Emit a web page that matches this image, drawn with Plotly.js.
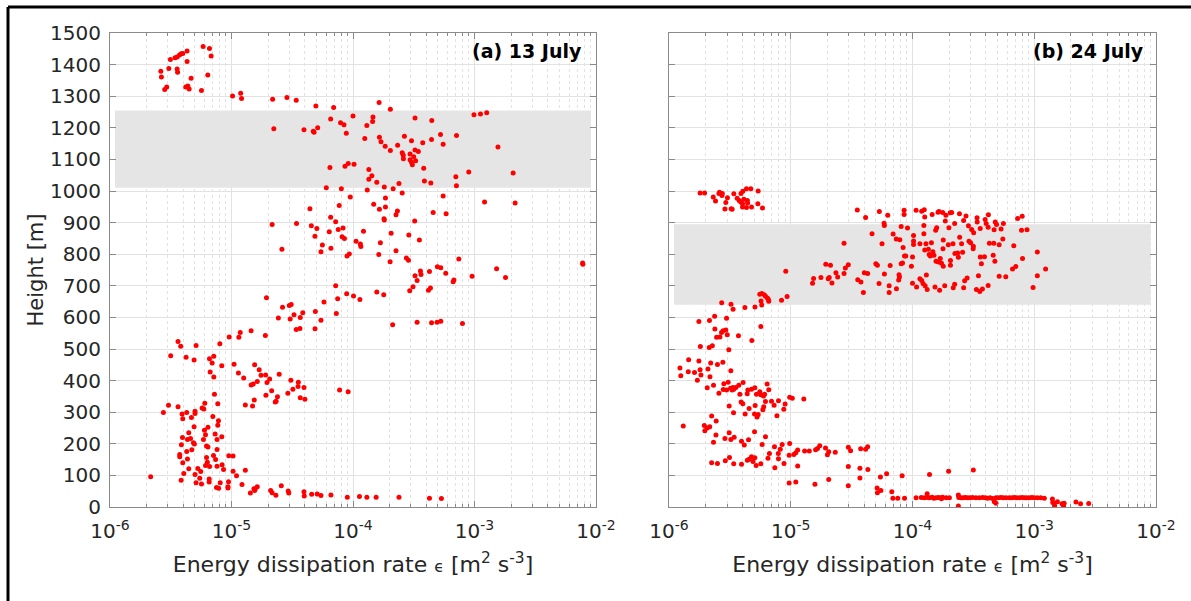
<!DOCTYPE html>
<html>
<head>
<meta charset="utf-8">
<script src="https://cdn.plot.ly/plotly-3.0.1.min.js"></script>
<style>
html, body { margin: 0; padding: 0; background: #ffffff; }
#chart { width: 1191px; height: 601px; }
</style>
</head>
<body>
<div id="chart"></div>
<script>
// ---------- Panel (a) 13 July : energy dissipation rate [m2 s-3] and height [m] ----------
const epsA = [
  2.62e-6, 2.65e-6, 2.82e-6, 2.93e-6, 3.05e-6, 3.14e-6, 3.43e-6, 3.57e-6, 3.73e-6, 3.85e-6,
  3.97e-6, 3.57e-6, 3.6e-6, 4.31e-6, 4.31e-6, 4.2e-6, 4.37e-6, 4.48e-6, 4.65e-6, 5.66e-6,
  5.84e-6, 6.59e-6, 6.8e-6, 6.38e-6, 1.02e-5, 1.19e-5, 1.21e-5, 2.18e-5, 2.86e-5, 3.41e-5,
  4.95e-5, 6.93e-5, 1.64e-4, 2.03e-4, 1.0e-4, 1.46e-4, 1.45e-4, 1.3e-4, 6.55e-5, 7.9e-5,
  8.43e-5, 8.81e-5, 3.95e-5, 4.71e-5, 4.78e-5, 5.12e-5, 2.23e-5, 1.25e-4, 1.65e-4, 1.7e-4,
  1.84e-4, 2.03e-4, 2.33e-4, 6.46e-5, 8.59e-5, 9.14e-5, 1.02e-4, 1.35e-4, 1.43e-4, 1.35e-4,
  1.57e-4, 1.81e-4, 2.14e-4, 2.39e-4, 6.03e-5, 8.02e-5, 9.5e-5, 1.31e-4, 1.85e-4, 1.48e-4,
  1.65e-4, 1.85e-4, 1.8e-4, 1.81e-4, 2.32e-4, 2.26e-4, 7.7e-5, 4.42e-5, 6.55e-5, 7.2e-5,
  2.16e-5, 3.43e-5, 4.54e-5, 5.04e-5, 4.86e-5, 6.38e-5, 7.56e-5, 8.28e-5, 8.13e-5, 8.5e-5,
  1.06e-4, 1.15e-4, 1.16e-4, 1.22e-4, 1.68e-4, 1.63e-4, 2.06e-4, 2.26e-4, 2.02e-4, 5.6e-5,
  5.45e-5, 6.58e-5, 2.6e-5, 8.93e-5, 9.33e-5, 7.2e-5, 8.87e-5, 1.01e-4, 7.48e-5, 1.14e-4,
  1.94e-5, 1.57e-4, 1.79e-4, 3.24e-4, 4.45e-4, 9.9e-4, 1.12e-3, 1.26e-3, 2.65e-4, 3.03e-4,
  3.75e-4, 4.43e-4, 5.25e-4, 5.52e-4, 7.11e-4, 1.56e-3, 2.54e-4, 2.59e-4, 2.6e-4, 2.95e-4,
  3.24e-4, 3.45e-4, 3.16e-4, 2.95e-4, 3.08e-4, 3.03e-4, 3.28e-4, 3.82e-4, 3.87e-4, 4.37e-4,
  7.02e-4, 7.1e-4, 8.97e-4, 2.08e-3, 2.54e-4, 5.52e-4, 4.57e-4, 5.84e-4, 1.21e-3, 2.16e-3,
  3.22e-4, 2.88e-4, 3.52e-4, 2.75e-4, 2.86e-4, 7.43e-4, 4.95e-4, 5.28e-4, 4.26e-4, 3.59e-4,
  3.24e-4, 3.37e-4, 3.63e-4, 5.8e-4, 6.67e-4, 6.77e-4, 9.55e-4, 1.52e-3, 1.8e-3, 7.76e-3,
  7.8e-3, 2.93e-4, 3.12e-4, 4.18e-4, 4.34e-4, 2.12e-4, 2.43e-5, 2.63e-5, 2.99e-5, 3.1e-5,
  3.27e-5, 3.04e-5, 3.41e-5, 3.66e-5, 3.68e-5, 3.86e-5, 4.9e-5, 4.87e-5, 5.45e-5, 5.77e-5,
  7.29e-5, 3.63e-6, 3.82e-6, 3.16e-6, 4.23e-6, 4.92e-6, 5.11e-6, 8.02e-6, 9.57e-6, 1.15e-5,
  1.18e-5, 1.45e-5, 1.9e-5, 6.59e-6, 6.93e-6, 7.15e-6, 6.67e-6, 7.15e-6, 8.32e-6, 1.05e-5,
  1.14e-5, 1.26e-5, 1.55e-5, 1.69e-5, 1.75e-5, 1.63e-5, 1.45e-5, 1.51e-5, 1.91e-5, 2.06e-5,
  1.96e-5, 2.47e-5, 2.14e-5, 1.92e-5, 2.39e-5, 2.33e-5, 2.29e-5, 1.54e-5, 1.3e-5, 1.49e-5,
  3.08e-5, 3.55e-5, 3.53e-5, 3.2e-5, 2.91e-5, 3.95e-5, 3.68e-5, 4.02e-5, 7.76e-5, 9.12e-5,
  3.03e-6, 2.75e-6, 3.63e-6, 3.92e-6, 3.97e-6, 4.28e-6, 4.68e-6, 5.01e-6, 5.01e-6, 5.73e-6,
  5.92e-6, 6.03e-6, 7.71e-6, 7.24e-6, 7.02e-6, 7.81e-6, 7.71e-6, 4.92e-6, 4.45e-6, 3.95e-6,
  4.34e-6, 4.6e-6, 4.86e-6, 4.95e-6, 3.87e-6, 4.28e-6, 4.71e-6, 3.75e-6, 3.75e-6, 3.97e-6,
  4.34e-6, 5.99e-6, 6.11e-6, 5.88e-6, 6.23e-6, 6.4e-6, 6.4e-6, 7.33e-6, 7.6e-6, 7.6e-6,
  8.32e-6, 7.11e-6, 7.4e-6, 6.23e-6, 6.33e-6, 6.11e-6, 6.6e-6, 7.6e-6, 8.37e-6, 9.5e-6,
  1.03e-5, 5.28e-6, 4.45e-6, 5.58e-6, 8.6e-6, 1.03e-5, 1.1e-5, 1.3e-5, 4.05e-6, 5.01e-6,
  5.48e-6, 6.55e-6, 6.55e-6, 3.85e-6, 5.11e-6, 5.66e-6, 8.07e-6, 9.45e-6, 7.52e-6, 7.84e-6,
  9.35e-6, 9.35e-6, 1.22e-5, 2.16e-6, 1.43e-5, 1.55e-5, 1.57e-5, 1.63e-5, 1.53e-5, 2.1e-5,
  2.16e-5, 2.32e-5, 2.57e-5, 2.93e-5, 2.96e-5, 3.95e-5, 3.97e-5, 4.57e-5, 5.08e-5, 5.45e-5,
  6.58e-5, 8.98e-5, 1.13e-4, 1.3e-4, 1.55e-4, 2.39e-4, 4.26e-4, 5.34e-4, 3.37e-4, 4.43e-4,
  4.92e-4, 5.28e-4, 7.96e-4
];
const heightA = [
  1379, 1361, 1321, 1329, 1388, 1416, 1422, 1424, 1430, 1434,
  1435, 1386, 1376, 1443, 1410, 1329, 1332, 1323, 1357, 1318,
  1457, 1451, 1427, 1367, 1301, 1309, 1293, 1290, 1296, 1287,
  1269, 1264, 1280, 1259, 1237, 1234, 1220, 1207, 1228, 1216,
  1210, 1183, 1194, 1189, 1186, 1200, 1197, 1166, 1170, 1156,
  1142, 1128, 1145, 1074, 1078, 1087, 1085, 1068, 1048, 1037,
  1028, 1013, 1007, 1024, 1010, 1007, 981, 1003, 978, 958,
  942, 949, 912, 908, 937, 925, 954, 944, 917, 903,
  894, 897, 890, 881, 857, 871, 878, 883, 855, 850,
  841, 832, 824, 873, 836, 799, 866, 811, 776, 829,
  808, 819, 816, 794, 801, 700, 675, 668, 659, 657,
  662, 680, 672, 1231, 1223, 1241, 1244, 1248, 1173, 1159,
  1153, 1163, 1179, 1148, 1176, 1139, 1121, 1113, 1102, 1117,
  1130, 1125, 1108, 1099, 1083, 1091, 1096, 1072, 1032, 1025,
  1045, 1017, 1060, 1057, 994, 984, 932, 928, 965, 962,
  905, 861, 845, 788, 781, 785, 760, 757, 745, 747,
  732, 717, 736, 740, 713, 718, 730, 754, 726, 772,
  768, 684, 697, 686, 693, 577, 598, 632, 638, 641,
  608, 595, 562, 565, 600, 615, 619, 564, 591, 649,
  612, 524, 509, 479, 474, 465, 511, 517, 538, 537,
  552, 558, 543, 469, 456, 477, 427, 411, 447, 452,
  424, 408, 450, 434, 417, 397, 386, 389, 418, 405,
  394, 420, 368, 354, 349, 335, 332, 339, 323, 320,
  401, 395, 381, 373, 360, 378, 346, 341, 370, 365,
  322, 299, 317, 294, 279, 299, 283, 303, 296, 313,
  310, 328, 327, 357, 286, 273, 259, 254, 235, 220,
  214, 217, 203, 199, 197, 176, 181, 166, 159, 140,
  152, 243, 229, 214, 193, 190, 252, 231, 214, 182,
  222, 163, 150, 157, 142, 131, 128, 129, 134, 162,
  161, 122, 121, 112, 119, 113, 99, 116, 106, 103,
  91, 89, 79, 85, 77, 73, 77, 80, 62, 59,
  64, 60, 71, 96, 44, 52, 58, 64, 58, 52,
  45, 37, 67, 51, 44, 48, 35, 40, 41, 36,
  38, 31, 33, 31, 31, 31, 28, 27, 585, 583,
  585, 588, 581
];

// ---------- Panel (b) 24 July ----------
const epsB = [
  1.8e-6, 1.96e-6, 2.31e-6, 2.41e-6, 2.57e-6, 2.6e-6, 2.72e-6, 2.74e-6, 2.93e-6, 3.02e-6,
  2.88e-6, 3.24e-6, 3.3e-6, 3.41e-6, 3.63e-6, 3.77e-6, 3.89e-6, 3.9e-6, 4.04e-6, 4.02e-6,
  4.12e-6, 4.33e-6, 4.4e-6, 4.42e-6, 4.7e-6, 4.33e-6, 4.02e-6, 4.76e-6, 5.4e-6, 5.37e-6,
  5.86e-6, 9.1e-6, 9.33e-6, 5.57e-6, 5.8e-6, 6.05e-6, 6.2e-6, 6.43e-6, 6.55e-6, 2.71e-6,
  3.23e-6, 3.36e-6, 4.2e-6, 5.08e-6, 5.78e-6, 5.7e-6, 6.6e-6, 8.4e-6, 3.52e-5, 4.12e-5,
  5.34e-5, 6.26e-5, 8.53e-5, 8.53e-5, 1.07e-4, 1.19e-4, 1.25e-4, 1.26e-4, 1.45e-4, 1.62e-4,
  1.65e-4, 1.77e-4, 1.88e-4, 1.86e-4, 2.04e-4, 2.1e-4, 2.43e-4, 2.75e-4, 2.63e-4, 2.22e-4,
  1.99e-4, 3.39e-4, 3.4e-4, 3.6e-4, 3.95e-4, 4.03e-4, 4.2e-4, 4.18e-4, 4.78e-4, 4.9e-4,
  4.68e-4, 5.34e-4, 5.58e-4, 7.3e-4, 7.96e-4, 7.86e-4, 8.72e-4, 3.06e-4, 3.18e-4, 2.88e-4,
  1.55e-4, 1.58e-4, 1.24e-4, 1.24e-4, 1.02e-4, 1.02e-4, 1.02e-4, 9.1e-5, 8.07e-5, 5.84e-5,
  5.87e-5, 6.93e-5, 7.35e-5, 7.87e-5, 4.65e-5, 5.62e-5, 2.74e-5, 8.37e-5, 8.6e-5, 8.8e-5,
  1.0e-4, 1.15e-4, 1.29e-4, 1.26e-4, 1.35e-4, 1.43e-4, 1.37e-4, 1.4e-4, 1.5e-4, 1.56e-4,
  1.47e-4, 1.63e-4, 1.69e-4, 1.73e-4, 1.79e-4, 1.79e-4, 1.78e-4, 1.97e-4, 2.15e-4, 2.23e-4,
  2.05e-4, 2.05e-4, 2.38e-4, 2.44e-4, 2.35e-4, 2.53e-4, 2.58e-4, 2.91e-4, 3.0e-4, 3.16e-4,
  3.15e-4, 3.6e-4, 3.9e-4, 3.68e-4, 4.28e-4, 4.65e-4, 5.15e-4, 5.52e-4, 4.6e-4, 4.75e-4,
  6.79e-4, 8.01e-4, 7.06e-4, 6.63e-4, 5.84e-4, 5.15e-4, 1.06e-3, 1.24e-3, 1.06e-3, 9.78e-4,
  3.48e-4, 4.18e-4, 3.75e-4, 3.35e-4, 3.57e-4, 2.81e-4, 2.68e-4, 2.63e-4, 2.22e-4, 2.16e-4,
  1.84e-4, 1.67e-4, 1.53e-4, 1.32e-4, 1.27e-4, 1.22e-4, 1.19e-4, 1.3e-4, 1.15e-4, 1.08e-4,
  1.0e-4, 9.8e-5, 8.28e-5, 8.07e-5, 7.81e-5, 7.7e-5, 7.75e-5, 7.38e-5, 6.43e-5, 6.43e-5,
  5.88e-5, 5.31e-5, 6.55e-5, 5.15e-5, 5.0e-5, 4.28e-5, 4.02e-5, 3.95e-5, 3.77e-5, 3.55e-5,
  2.97e-5, 2.81e-5, 2.74e-5, 2.35e-5, 2.43e-5, 2.12e-5, 1.94e-5, 2.07e-5, 2.18e-5, 2.03e-5,
  1.77e-5, 1.54e-5, 1.51e-5, 1.76e-6, 2.15e-6, 2.37e-6, 2.97e-6, 2.38e-6, 2.7e-6, 2.78e-6,
  2.93e-6, 3.01e-6, 2.62e-6, 2.46e-6, 3.72e-6, 5.68e-6, 4.79e-6, 1.81e-6, 2.14e-6, 2.27e-6,
  3.1e-6, 1.45e-6, 1.76e-6, 2.2e-6, 2.5e-6, 2.77e-6, 1.23e-6, 1.25e-6, 1.44e-6, 1.62e-6,
  1.8e-6, 1.71e-6, 1.83e-6, 2.09e-6, 2.17e-6, 3.22e-6, 2.06e-6, 2.32e-6, 2.57e-6, 2.82e-6,
  3.06e-6, 2.79e-6, 2.97e-6, 3.2e-6, 3.3e-6, 3.35e-6, 3.4e-6, 3.54e-6, 3.74e-6, 3.82e-6,
  4.06e-6, 3.91e-6, 4.04e-6, 4.44e-6, 4.39e-6, 4.76e-6, 5.07e-6, 4.55e-6, 5.1e-6, 5.23e-6,
  5.57e-6, 5.68e-6, 5.97e-6, 6.1e-6, 6.4e-6, 6.6e-6, 6.2e-6, 6.0e-6, 5.9e-6, 6.95e-6,
  7.3e-6, 7.93e-6, 7.7e-6, 8.77e-6, 8.99e-6, 9.8e-6, 1.03e-5, 1.28e-5, 3.12e-6, 3.39e-6,
  4.22e-6, 5.04e-6, 5.29e-6, 5.4e-6, 1.31e-6, 1.95e-6, 1.97e-6, 2.06e-6, 2.16e-6, 2.24e-6,
  2.44e-6, 2.32e-6, 2.43e-6, 2.88e-6, 3.12e-6, 3.22e-6, 3.43e-6, 3.94e-6, 4.15e-6, 4.5e-6,
  5.04e-6, 5.82e-6, 6.2e-6, 7.35e-6, 7.9e-6, 6.68e-6, 8.2e-6, 8.5e-6, 9.8e-6, 9.7e-6,
  1.06e-5, 1.1e-5, 1.14e-5, 1.3e-5, 2.24e-6, 2.5e-6, 2.9e-6, 3.14e-6, 3.4e-6, 3.94e-6,
  4.4e-6, 4.55e-6, 4.76e-6, 4.9e-6, 5.07e-6, 5.2e-6, 5.68e-6, 6.5e-6, 7.4e-6, 7.93e-6,
  8.8e-6, 1.14e-5, 9.7e-6, 1.1e-5, 1.42e-5, 1.6e-5, 1.66e-5, 1.73e-5, 1.93e-5, 2.0e-5,
  2.05e-5, 2.32e-5, 2.97e-5, 3.1e-5, 3.75e-5, 4.12e-5, 4.28e-5, 2.97e-5, 3.7e-5, 4.3e-5,
  2.05e-5, 1.58e-5, 2.97e-5, 3.7e-5, 5.45e-5, 6.13e-5, 8.22e-5, 5.12e-5, 5.15e-5, 5.5e-5,
  6.76e-5, 6.9e-5, 7.57e-5, 8.6e-5, 1.38e-4, 1.98e-4, 3.16e-4, 1.07e-4, 1.18e-4, 1.25e-4,
  1.32e-4, 1.38e-4, 1.45e-4, 1.5e-4, 1.56e-4, 1.63e-4, 1.7e-4, 1.77e-4, 1.89e-4, 2.01e-4,
  2.4e-4, 2.51e-4, 2.62e-4, 2.72e-4, 2.84e-4, 2.97e-4, 3.12e-4, 3.32e-4, 3.54e-4, 3.77e-4,
  3.97e-4, 4.14e-4, 4.33e-4, 4.55e-4, 4.85e-4, 5.07e-4, 5.33e-4, 5.57e-4, 5.86e-4, 6.24e-4,
  6.56e-4, 6.86e-4, 7.16e-4, 7.54e-4, 7.93e-4, 8.28e-4, 8.65e-4, 9.1e-4, 9.57e-4, 1.0e-3,
  1.06e-3, 1.13e-3, 1.21e-3, 1.32e-4, 2.38e-4, 2.38e-4, 4.85e-4, 4.7e-4, 1.73e-4, 1.41e-3,
  1.42e-3, 1.55e-3, 1.69e-3, 1.74e-3, 1.46e-3, 1.47e-3, 1.76e-3, 2.2e-3, 2.4e-3, 2.8e-3
];
const heightB = [
  994, 994, 981, 968, 992, 996, 986, 992, 964, 979,
  943, 944, 942, 991, 977, 970, 965, 992, 999, 960,
  974, 1007, 970, 962, 1007, 948, 949, 949, 1000, 960,
  946, 746, 666, 673, 676, 672, 667, 661, 657, 646,
  642, 626, 631, 633, 639, 652, 651, 654, 940, 916,
  935, 923, 939, 926, 939, 936, 941, 918, 926, 933,
  935, 932, 923, 905, 931, 932, 928, 921, 907, 897,
  884, 915, 902, 881, 910, 897, 925, 885, 902, 894,
  877, 880, 897, 913, 920, 876, 877, 878, 868, 890,
  876, 884, 891, 865, 859, 842, 831, 883, 888, 898,
  891, 864, 848, 846, 865, 833, 835, 821, 794, 794,
  791, 833, 833, 813, 816, 836, 799, 794, 797, 778,
  808, 775, 786, 771, 762, 845, 817, 830, 833, 802,
  780, 765, 790, 854, 804, 833, 806, 841, 836, 825,
  817, 791, 792, 770, 835, 835, 830, 848, 797, 778,
  827, 786, 761, 753, 729, 730, 807, 753, 732, 695,
  732, 701, 690, 688, 682, 725, 716, 694, 705, 694,
  700, 686, 696, 688, 700, 707, 717, 734, 722, 696,
  708, 762, 772, 770, 728, 718, 735, 691, 700, 679,
  737, 707, 764, 765, 770, 739, 741, 679, 712, 719,
  767, 756, 739, 741, 728, 765, 768, 726, 709, 722,
  726, 723, 708, 587, 590, 604, 597, 563, 552, 558,
  560, 545, 538, 537, 542, 571, 527, 508, 505, 510,
  498, 466, 462, 456, 451, 458, 440, 415, 428, 426,
  434, 401, 418, 437, 412, 431, 377, 385, 360, 390,
  395, 372, 370, 376, 370, 378, 373, 378, 385, 357,
  394, 332, 327, 370, 358, 373, 377, 312, 321, 357,
  365, 355, 351, 357, 389, 371, 334, 317, 308, 335,
  322, 336, 289, 309, 326, 347, 344, 342, 320, 298,
  294, 294, 285, 293, 256, 258, 241, 250, 254, 288,
  272, 205, 228, 217, 235, 214, 221, 208, 196, 213,
  238, 198, 222, 191, 169, 169, 183, 198, 201, 164,
  166, 172, 180, 177, 140, 138, 146, 157, 137, 135,
  148, 151, 159, 144, 156, 131, 137, 154, 124, 153,
  138, 130, 76, 79, 177, 181, 185, 194, 187, 165,
  175, 173, 189, 178, 184, 183, 191, 128, 123, 119,
  87, 72, 67, 92, 95, 105, 99, 60, 45, 52,
  48, 28, 28, 28, 103, 113, 117, 29, 30, 29,
  30, 29, 31, 28, 29, 30, 29, 31, 29, 29,
  30, 29, 29, 30, 29, 29, 30, 29, 29, 30,
  29, 28, 29, 27, 29, 29, 30, 29, 29, 29,
  29, 30, 29, 29, 30, 29, 29, 29, 30, 29,
  29, 29, 28, 42, 38, 3, 12, 17, 26, 25,
  14, 17, 10, 3, 10, 3, 12, 16, 10, 11
];

// shaded layers: height [bottom, top] in m and epsilon extent [left, right]
const bandHeightA = [1010, 1255];
const bandHeightB = [640, 895];
const bandEpsA = [1.1e-6, 9.1e-3];
const bandEpsB = [1.1e-6, 9.05e-3];

// axis ticks and texts
const xTickVals = [1e-6, 1e-5, 1e-4, 1e-3, 1e-2];
const xTickText = ['10<sup>-6</sup>', '10<sup>-5</sup>', '10<sup>-4</sup>', '10<sup>-3</sup>', '10<sup>-2</sup>'];
const panelLabels = ['(a) 13 July', '(b) 24 July'];
const xTitleText = 'Energy dissipation rate <span style="font-size:16px">ϵ</span> [m<sup>2</sup> s<sup>-3</sup>]';
const yTitleText = 'Height [m]';

const minorVals = [];
for (let d = -6; d <= -3; d++) {
  for (let m = 2; m <= 9; m++) minorVals.push(m * Math.pow(10, d));
}

const W = 1191, H = 601;
const axisColor = '#8a8a8a';
const gridColor = '#e2e2e2';
const textColor = '#262626';
const FONT = 'DejaVu Sans, Liberation Sans, Arial, sans-serif';

function xAxis(domain, anchor) {
  return {
    domain: domain, anchor: anchor, type: 'log', range: [-6, -2],
    tickmode: 'array', tickvals: xTickVals, ticktext: xTickText,
    ticks: 'inside', ticklen: 6, tickwidth: 1, tickcolor: axisColor,
    showline: true, linecolor: axisColor, linewidth: 1, mirror: 'ticks',
    showgrid: true, gridcolor: gridColor, gridwidth: 1, zeroline: false,
    minor: { tickmode: 'array', tickvals: minorVals, ticks: 'inside', ticklen: 3, tickcolor: axisColor,
             showgrid: true, gridcolor: gridColor, griddash: 'dot', gridwidth: 1 },
    tickfont: { family: FONT, size: 20, color: textColor },
    ticklabelstandoff: 6,
    title: { text: xTitleText, font: { family: FONT, size: 22, color: textColor }, standoff: 14 },
    fixedrange: true
  };
}
function yAxis(anchor, labels) {
  return {
    anchor: anchor, domain: [1 - 507 / H, 1 - 33 / H], range: [0, 1500],
    tickmode: 'linear', tick0: 0, dtick: 100,
    ticks: 'inside', ticklen: 6, tickwidth: 1, tickcolor: axisColor,
    showline: true, linecolor: axisColor, linewidth: 1, mirror: 'ticks',
    showgrid: true, gridcolor: gridColor, gridwidth: 1, zeroline: false,
    showticklabels: labels,
    tickfont: { family: FONT, size: 20, color: textColor },
    ticklabelstandoff: 4,
    title: labels ? { text: yTitleText, font: { family: FONT, size: 21, color: textColor }, standoff: 0 } : { text: '' },
    fixedrange: true
  };
}

function bandTrace(epsRange, hRange, xa, ya) {
  return {
    type: 'scatter', mode: 'lines', xaxis: xa, yaxis: ya,
    x: [epsRange[0], epsRange[1], epsRange[1], epsRange[0], epsRange[0]],
    y: [hRange[0], hRange[0], hRange[1], hRange[1], hRange[0]],
    fill: 'toself', fillcolor: '#e5e5e5', line: { width: 0, color: 'rgba(0,0,0,0)' },
    hoverinfo: 'skip'
  };
}

const markerStyle = { color: '#ff0000', size: 5, line: { width: 0 } };
const traces = [
  bandTrace(bandEpsA, bandHeightA, 'x', 'y'),
  bandTrace(bandEpsB, bandHeightB, 'x2', 'y2'),
  { type: 'scatter', mode: 'markers', x: epsA, y: heightA, xaxis: 'x', yaxis: 'y', marker: markerStyle, hoverinfo: 'skip' },
  { type: 'scatter', mode: 'markers', x: epsB, y: heightB, xaxis: 'x2', yaxis: 'y2', marker: markerStyle, hoverinfo: 'skip' }
];

const layout = {
  width: W, height: H,
  margin: { l: 0, r: 0, t: 0, b: 0 },
  paper_bgcolor: '#ffffff', plot_bgcolor: '#ffffff',
  showlegend: false,
  font: { family: FONT, color: textColor },
  xaxis: xAxis([110 / W, 596 / W], 'y'),
  yaxis: yAxis('x', true),
  xaxis2: xAxis([669 / W, 1156 / W], 'y2'),
  yaxis2: yAxis('x2', false),
  shapes: [
    { type: 'line', xref: 'paper', yref: 'paper', x0: 8 / W, x1: 8 / W, y0: 0, y1: 1 - 7 / H,
      line: { color: '#000000', width: 3 } },
    { type: 'line', xref: 'paper', yref: 'paper', x0: 8 / W, x1: 1, y0: 1 - 7 / H, y1: 1 - 7 / H,
      line: { color: '#000000', width: 3 } }
  ],
  annotations: [
    { xref: 'x domain', yref: 'y domain', x: 0.976, y: 0.962, xanchor: 'right', yanchor: 'middle',
      text: '<b>' + panelLabels[0] + '</b>', showarrow: false,
      font: { family: FONT, size: 19, color: '#000000' } },
    { xref: 'x2 domain', yref: 'y2 domain', x: 0.979, y: 0.962, xanchor: 'right', yanchor: 'middle',
      text: '<b>' + panelLabels[1] + '</b>', showarrow: false,
      font: { family: FONT, size: 19, color: '#000000' } }
  ]
};

Plotly.newPlot('chart', traces, layout, { displayModeBar: false, staticPlot: true });
</script>
</body>
</html>
